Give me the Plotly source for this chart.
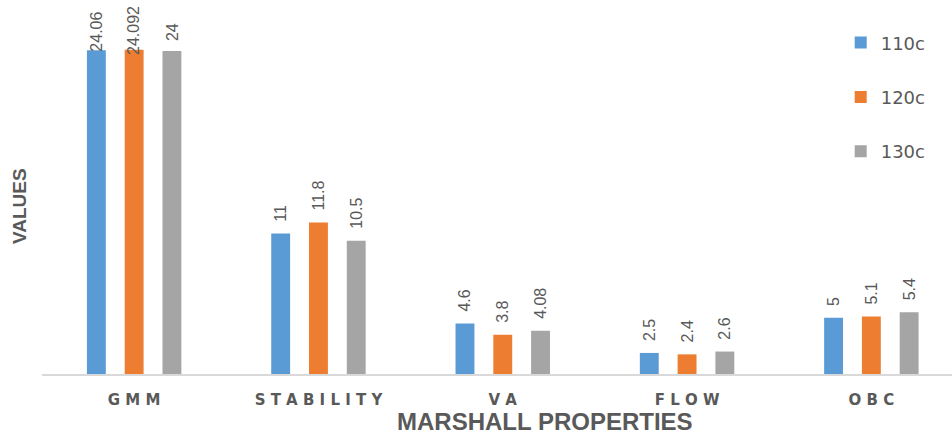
import plotly.graph_objects as go

# Marshall test properties for three mixing temperatures
categories = ["GMM", "STABILITY", "VA", "FLOW", "OBC"]
tick_labels = ["G M M", "S T A B I L I T Y", "V A", "F L O W", "O B C"]
series_names = ["110c", "120c", "130c"]
values_110 = [24.06, 11, 4.6, 2.5, 5]
values_120 = [24.092, 11.8, 3.8, 2.4, 5.1]
values_130 = [24, 10.5, 4.08, 2.6, 5.4]
label_110 = ["24.06", "11", "4.6", "2.5", "5"]
label_120 = ["24.092", "11.8", "3.8", "2.4", "5.1"]
label_130 = ["24", "10.5", "4.08", "2.6", "5.4"]

colors = ["#5b9bd5", "#ed7d31", "#a5a5a5"]
label_font = dict(family="Liberation Sans, Arial, sans-serif", size=16, color="#595959")

BARGAP = 0.385
BARGROUPGAP = 0.5
n_series = len(series_names)
slot = (1 - BARGAP) / n_series  # width of one bar slot within a category

fig = go.Figure()
annotations = []
series = [values_110, values_120, values_130]
labels_all = [label_110, label_120, label_130]
for k, (name, vals, labels, col) in enumerate(zip(series_names, series, labels_all, colors)):
    # the tallest group has no headroom: its labels are placed separately,
    # the others sit above their bars with a little clearance
    texts = ["\u00a0\u00a0" + s for s in labels]
    positions = ["none"] + ["outside"] * (len(labels) - 1)
    fig.add_trace(go.Bar(
        x=categories, y=vals, name=name, legendgroup=name,
        marker=dict(color=col, line=dict(width=0)),
        text=texts, textposition=positions, textangle=-90,
        textfont=label_font, cliponaxis=False, constraintext="none",
    ))
    offset = (k - (n_series - 1) / 2) * slot
    annotations.append(dict(
        x=0 + offset, y=vals[0], xref="x", yref="y",
        text=labels[0], textangle=-90, showarrow=False,
        xanchor="center", yanchor="middle", yshift=19,
        font=label_font,
    ))

annotations += [
    dict(text="<b>MARSHALL PROPERTIES</b>", xref="paper", yref="paper",
         x=(545 - 42) / 910, y=-(421 - 374) / 374, xanchor="center", yanchor="middle",
         showarrow=False,
         font=dict(family="Liberation Sans, Arial, sans-serif", size=24, color="#595959")),
    dict(text="<b>VALUES</b>", xref="paper", yref="paper",
         x=-(42 - 19) / 910, y=(374 - 206) / 374, xanchor="center", yanchor="middle",
         textangle=-90, showarrow=False,
         font=dict(family="Liberation Sans, Arial, sans-serif", size=19, color="#595959")),
]

fig.update_layout(
    width=952, height=437,
    margin=dict(l=42, r=0, t=0, b=63),
    paper_bgcolor="white", plot_bgcolor="white",
    barmode="group", bargap=BARGAP, bargroupgap=BARGROUPGAP,
    showlegend=True,
    legend=dict(
        x=0.8777, y=0.935, xanchor="left", yanchor="top",
        font=dict(family="DejaVu Sans, sans-serif", size=18, color="#595959"),
        tracegroupgap=28, traceorder="grouped",
        bgcolor="rgba(0,0,0,0)",
    ),
    xaxis=dict(
        type="category", range=[-0.5, 4.4375],
        tickvals=categories, ticktext=tick_labels,
        tickfont=dict(family="DejaVu Sans, sans-serif", size=15, color="#595959", weight="bold"),
        showline=True, linecolor="#d9d9d9", linewidth=1.5,
        ticks="", showgrid=False, zeroline=False, ticklabelstandoff=11,
    ),
    yaxis=dict(
        range=[1, 27.64], showticklabels=False, showgrid=False,
        zeroline=False, showline=False, ticks="",
    ),
    annotations=annotations,
)

fig.write_html("out.html")
